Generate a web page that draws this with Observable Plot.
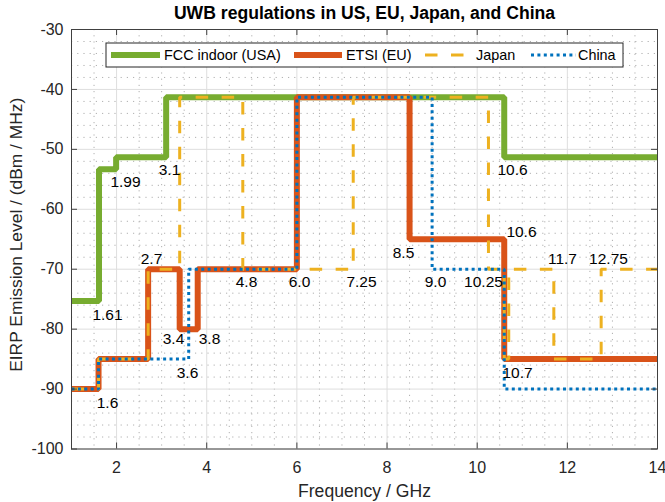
<!DOCTYPE html>
<html><head><meta charset="utf-8">
<script src="https://cdn.jsdelivr.net/npm/d3@7"></script>
<script src="https://cdn.jsdelivr.net/npm/@observablehq/plot@0.6"></script>
<style>
body{margin:0;background:#fff;}
#chart{width:665px;height:502px;}
</style></head><body><div id="chart"></div>
<script>
const titleText = "UWB regulations in US, EU, Japan, and China";
const xLabel = "Frequency / GHz";
const yLabel = "EIRP Emission Level / (dBm / MHz)";
const seriesNames = ["FCC indoor (USA)", "ETSI (EU)", "Japan", "China"];

const fccFreq   = [1, 1.61, 1.99, 3.1, 10.6, 14];
const fccLevel  = [-75.3, -53.3, -51.3, -41.3, -51.3, -51.3];
const etsiFreq  = [1, 1.6, 2.7, 3.4, 3.8, 6.0, 8.5, 10.6, 14];
const etsiLevel = [-90, -85, -70, -80, -70, -41.3, -65, -85, -85];
const japanFreq  = [1, 1.6, 2.7, 3.4, 4.8, 7.25, 10.25, 10.6, 10.7, 11.7, 12.75, 14];
const japanLevel = [-90, -85, -70, -41.3, -70, -41.3, -70, -85, -70, -85, -70, -70];
const chinaFreq  = [1, 1.6, 3.6, 6.0, 9.0, 10.6, 14];
const chinaLevel = [-90, -85, -70, -41.3, -70, -90, -90];

const xTicks = [2, 4, 6, 8, 10, 12, 14];
const yTicks = [-100, -90, -80, -70, -60, -50, -40, -30];

const annoLabels = ["1.61","1.99","3.1","2.7","3.4","3.8","3.6","1.6","4.8","6.0","7.25","9.0","10.25","8.5","10.6","10.6","11.7","12.75","10.7"];
const annoFreq   = [1.799, 2.198, 3.174, 2.775, 3.263, 4.061, 3.573, 1.799, 4.882, 6.058, 7.433, 9.075, 10.140, 8.365, 10.982, 10.783, 11.892, 12.913, 10.894];
const annoLevel  = [-77.72, -55.53, -53.53, -68.38, -81.73, -81.73, -87.40, -92.41, -72.22, -72.22, -72.22, -72.22, -72.22, -67.38, -63.87, -53.53, -68.38, -68.38, -87.40];

const colors = {"FCC indoor (USA)": "#77AC30", "ETSI (EU)": "#D95319", "Japan": "#EDB120", "China": "#0072BD"};
const styles = {
  "FCC indoor (USA)": {strokeWidth: 6, dash: null},
  "ETSI (EU)": {strokeWidth: 6, dash: null},
  "Japan": {strokeWidth: 3, dash: "12.5,13.5"},
  "China": {strokeWidth: 3, dash: "3,3.4"}
};

const seriesData = [
  [fccFreq, fccLevel], [etsiFreq, etsiLevel], [japanFreq, japanLevel], [chinaFreq, chinaLevel]
].map(([fx, fy], i) => fx.map((f, j) => ({series: seriesNames[i], freq: f, level: fy[j]})));

const annos = annoLabels.map((t, i) => ({t, x: annoFreq[i], y: annoLevel[i]}));

const W = 665, H = 502, mL = 71, mR = 8, mT = 29, mB = 53.5;
const innerW = W - mL - mR, innerH = H - mT - mB;

const xMinor = d3.range(1, 14.001, 0.5).filter(v => !xTicks.includes(v));
const yMinor = d3.range(-100, -29.999, 2).filter(v => !yTicks.includes(v));

const font = "'Liberation Sans', Arial, Helvetica, sans-serif";
const axisColor = "#404040";

const lineMarks = seriesData.map(d => {
  const s = d[0].series;
  return Plot.line(d, {
    x: "freq", y: "level", curve: "step-after", clip: true,
    stroke: colors[s], strokeWidth: styles[s].strokeWidth,
    strokeDasharray: styles[s].dash, strokeLinejoin: "miter", strokeLinecap: "butt"
  });
});

const chart = Plot.plot({
  width: W, height: H,
  marginLeft: mL, marginRight: mR, marginTop: mT, marginBottom: mB,
  style: {fontFamily: font, background: "white", overflow: "visible"},
  x: {domain: [1, 14], label: null},
  y: {domain: [-100, -30], label: null},
  marks: [
    Plot.ruleX(xMinor, {stroke: "#b0b0b0", strokeWidth: 1, strokeDasharray: "1.2,5"}),
    Plot.ruleY(yMinor, {stroke: "#b0b0b0", strokeWidth: 1, strokeDasharray: "1.2,5"}),
    Plot.ruleX(xTicks, {stroke: "#dedede", strokeWidth: 1}),
    Plot.ruleY(yTicks, {stroke: "#dedede", strokeWidth: 1}),
    ...lineMarks,
    Plot.frame({stroke: axisColor, strokeWidth: 1}),
    Plot.ruleX(xTicks, {stroke: axisColor, insetTop: innerH - 6}),
    Plot.ruleX(xTicks, {stroke: axisColor, insetBottom: innerH - 6}),
    Plot.ruleY(yTicks, {stroke: axisColor, insetRight: innerW - 6}),
    Plot.ruleY(yTicks, {stroke: axisColor, insetLeft: innerW - 6}),
    Plot.axisX(xTicks, {anchor: "bottom", tickSize: 0, tickPadding: 13, fontSize: 16, fill: "#262626", tickFormat: d => String(d), label: null}),
    Plot.axisY(yTicks, {anchor: "left", tickSize: 0, tickPadding: 8, fontSize: 16, fill: "#262626", tickFormat: d => String(d), label: null}),
    Plot.text(annos, {x: "x", y: "y", text: "t", fontSize: 15.5, fill: "black", textAnchor: "middle", lineAnchor: "middle"}),
    Plot.text([titleText], {frameAnchor: "top", dy: -16.3, textAnchor: "middle", lineAnchor: "middle", fontWeight: "bold", fontSize: 17.6, fill: "black"}),
    Plot.text([xLabel], {frameAnchor: "bottom", dy: 42.4, textAnchor: "middle", lineAnchor: "middle", fontSize: 17.6, fill: "#262626"}),
    Plot.text([yLabel], {frameAnchor: "left", dx: -55, dy: -4.5, rotate: -90, textAnchor: "middle", lineAnchor: "middle", fontSize: 17.4, fill: "#262626"})
  ]
});

document.getElementById("chart").appendChild(chart);

// Legend (layout element inside the plot frame)
const svg = d3.select(chart);
const lg = svg.append("g").attr("font-family", font).attr("font-size", 14.4).attr("text-anchor", "start");
const box = {x: 106, y: 43, w: 517, h: 24};
lg.append("rect").attr("x", box.x).attr("y", box.y).attr("width", box.w).attr("height", box.h)
  .attr("fill", "white").attr("stroke", "#262626").attr("stroke-width", 1);
const cy = box.y + box.h / 2;
const items = [
  {name: seriesNames[0], x1: 111, x2: 160, tx: 164},
  {name: seriesNames[1], x1: 294, x2: 342, tx: 346},
  {name: seriesNames[2], x1: 425, x2: 470, tx: 476},
  {name: seriesNames[3], x1: 531, x2: 576, tx: 578}
];
items.forEach(it => {
  const st = styles[it.name];
  lg.append("line").attr("x1", it.x1).attr("x2", it.x2).attr("y1", cy).attr("y2", cy)
    .attr("stroke", colors[it.name]).attr("stroke-width", st.strokeWidth)
    .attr("stroke-dasharray", st.dash);
  lg.append("text").attr("x", it.tx).attr("y", cy).attr("dy", "0.34em").attr("text-anchor", "start").attr("fill", "black").text(it.name);
});
</script></body></html>
